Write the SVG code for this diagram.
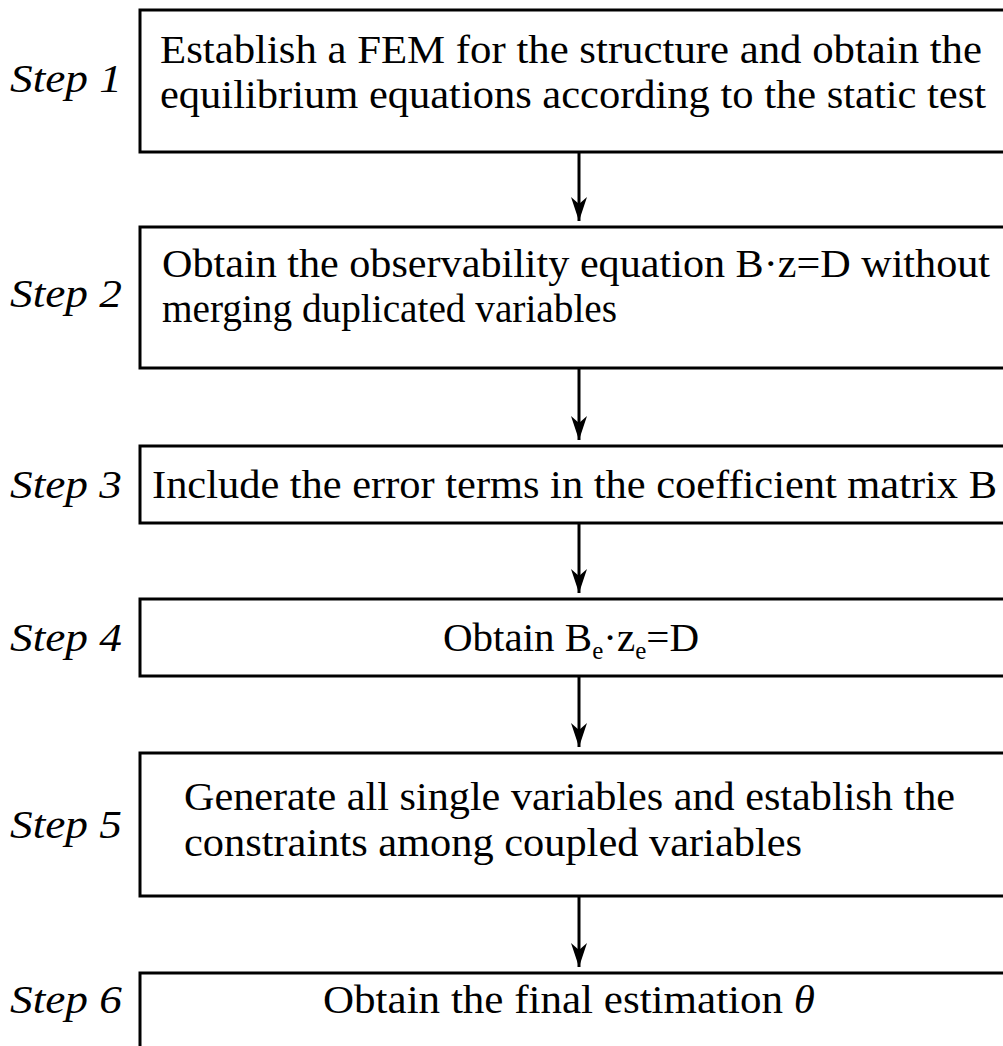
<svg xmlns="http://www.w3.org/2000/svg" width="1003" height="1046" viewBox="0 0 1003 1046">
<style>
.box{fill:#fff;stroke:#000;stroke-width:3}
.t{font-family:"Liberation Serif","Times New Roman",serif;font-size:41px;fill:#000}
.s{font-family:"Liberation Serif","Times New Roman",serif;font-size:40px;font-style:italic;fill:#000}
.c{stroke:#000;stroke-width:3;fill:none}
</style>
<defs>
<marker id="ah" viewBox="-26 -9 28 18" markerWidth="28" markerHeight="18" refX="0" refY="0" orient="auto" markerUnits="userSpaceOnUse">
<path d="M0,0 L-24,-8 L-17,0 L-24,8 Z" fill="#000"/>
</marker>
</defs>
<rect width="1003" height="1046" fill="#fff"/>
<g id="connectors">
<line class="c" x1="579" y1="152" x2="579" y2="221" marker-end="url(#ah)"/>
<line class="c" x1="579" y1="368" x2="579" y2="440" marker-end="url(#ah)"/>
<line class="c" x1="579" y1="523" x2="579" y2="593" marker-end="url(#ah)"/>
<line class="c" x1="579" y1="676" x2="579" y2="747" marker-end="url(#ah)"/>
<line class="c" x1="579" y1="896" x2="579" y2="967" marker-end="url(#ah)"/>
</g>
<g id="step1">
<rect class="box" x="140" y="10" width="880" height="142"/>
<text class="s" x="10" y="92" textLength="112" lengthAdjust="spacingAndGlyphs">Step 1</text>
<text class="t" x="160" y="63" textLength="822" lengthAdjust="spacingAndGlyphs">Establish a FEM for the structure and obtain the</text>
<text class="t" x="160" y="108" textLength="826" lengthAdjust="spacingAndGlyphs">equilibrium equations according to the static test</text>
</g>
<g id="step2">
<rect class="box" x="140" y="227" width="880" height="141"/>
<text class="s" x="10" y="307" textLength="112" lengthAdjust="spacingAndGlyphs">Step 2</text>
<text class="t" x="162" y="277" textLength="828" lengthAdjust="spacingAndGlyphs">Obtain the observability equation B·z=D without</text>
<text class="t" x="162" y="322" textLength="455" lengthAdjust="spacingAndGlyphs">merging duplicated variables</text>
</g>
<g id="step3">
<rect class="box" x="140" y="446" width="880" height="77"/>
<text class="s" x="10" y="498" textLength="112" lengthAdjust="spacingAndGlyphs">Step 3</text>
<text class="t" x="152" y="498" textLength="845" lengthAdjust="spacingAndGlyphs">Include the error terms in the coefficient matrix B</text>
</g>
<g id="step4">
<rect class="box" x="140" y="599" width="880" height="77"/>
<text class="s" x="10" y="651" textLength="112" lengthAdjust="spacingAndGlyphs">Step 4</text>
<text class="t" x="443" y="651" font-size="42">Obtain B<tspan font-size="25" dy="8">e</tspan><tspan dy="-8">·z</tspan><tspan font-size="25" dy="8">e</tspan><tspan dy="-8">=D</tspan></text>
</g>
<g id="step5">
<rect class="box" x="140" y="753" width="880" height="143"/>
<text class="s" x="10" y="838" textLength="112" lengthAdjust="spacingAndGlyphs">Step 5</text>
<text class="t" x="184" y="810" textLength="771" lengthAdjust="spacingAndGlyphs">Generate all single variables and establish the</text>
<text class="t" x="184" y="856" textLength="618" lengthAdjust="spacingAndGlyphs">constraints among coupled variables</text>
</g>
<g id="step6">
<rect class="box" x="140" y="973" width="880" height="100"/>
<text class="s" x="10" y="1013" textLength="112" lengthAdjust="spacingAndGlyphs">Step 6</text>
<text class="t" x="323" y="1013" textLength="492" lengthAdjust="spacingAndGlyphs">Obtain the final estimation <tspan font-style="italic">θ</tspan></text>
</g>
</svg>
